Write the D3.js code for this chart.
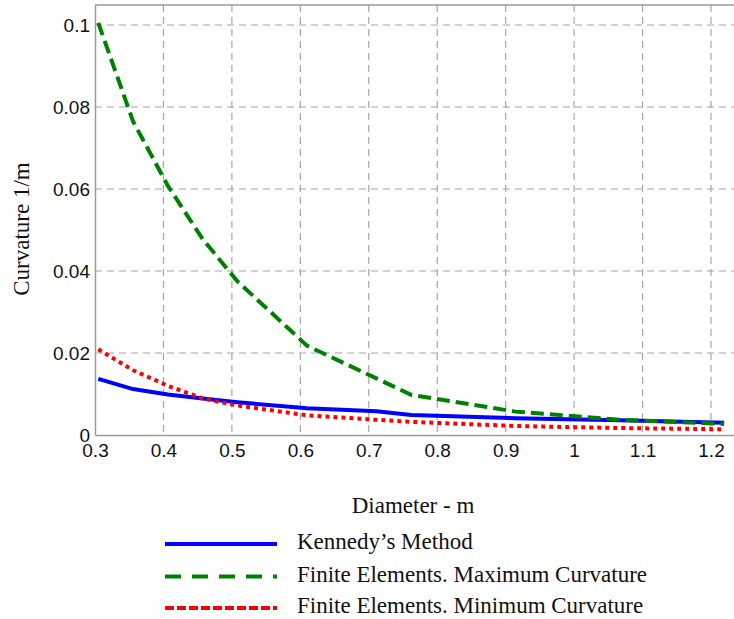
<!DOCTYPE html>
<html>
<head>
<meta charset="utf-8">
<script src="https://cdn.jsdelivr.net/npm/d3@7"></script>
<style>
  html, body { margin: 0; padding: 0; background: #ffffff; }
  svg { display: block; }
</style>
</head>
<body>
<svg id="chart" width="734" height="619"></svg>
<script>
// ---- data ----
const diameters = [0.3048, 0.3556, 0.4064, 0.4572, 0.508, 0.6096, 0.7112, 0.762, 0.9144, 1.0668, 1.2192];
const kennedy   = [0.0137, 0.0112, 0.0099, 0.0089, 0.0080, 0.0065, 0.0058, 0.0049, 0.0041, 0.0036, 0.0030];
const feMax     = [0.1005, 0.0765, 0.0608, 0.0478, 0.0375, 0.0218, 0.0138, 0.0098, 0.0057, 0.0037, 0.0027];
const feMin     = [0.0209, 0.0158, 0.0120, 0.0089, 0.0072, 0.0048, 0.0037, 0.0032, 0.0022, 0.0017, 0.0014];
const xTicks = [0.3, 0.4, 0.5, 0.6, 0.7, 0.8, 0.9, 1.0, 1.1, 1.2];
const yTicks = [0, 0.02, 0.04, 0.06, 0.08, 0.1];
const seriesNames = ["Kennedy\u2019s Method", "Finite Elements. Maximum Curvature", "Finite Elements. Minimum Curvature"];
const xTitle = "Diameter - m";
const yTitle = "Curvature 1/m";

(function () {
// ---- layout ----
const svg = d3.select("#chart");
const pL = 95, pR = 734, pT = 5, pB = 435;
const x = d3.scaleLinear().domain([0.3, 0.3 + (pR - pL) / 684.44]).range([pL, pR]);
const y = d3.scaleLinear().domain([0, 0.1 * (pB - pT) / 410]).range([pB, pT]);

const gridColor = "#a6a6a6";
const axisColor = "#9a9a9a";

// grid
svg.append("g").selectAll("line").data(xTicks.filter(d => d > 0.3)).join("line")
  .attr("x1", d => x(d)).attr("x2", d => x(d))
  .attr("y1", pT).attr("y2", pB)
  .attr("stroke", gridColor).attr("stroke-width", 1.2).attr("stroke-dasharray", "7,5");
svg.append("g").selectAll("line").data(yTicks.filter(d => d > 0)).join("line")
  .attr("x1", pL).attr("x2", pR)
  .attr("y1", d => y(d)).attr("y2", d => y(d))
  .attr("stroke", gridColor).attr("stroke-width", 1.2).attr("stroke-dasharray", "7,5");

// axes
const fmt = d3.format("~g");
const xAxis = svg.append("g").attr("transform", `translate(0,${pB})`)
  .call(d3.axisBottom(x).tickValues(xTicks).tickSize(0).tickPadding(9).tickFormat(fmt));
const yAxis = svg.append("g").attr("transform", `translate(${pL},0)`)
  .call(d3.axisLeft(y).tickValues(yTicks).tickSize(0).tickPadding(5).tickFormat(fmt));
[xAxis, yAxis].forEach(g => {
  g.select(".domain").attr("stroke", axisColor).attr("stroke-width", 1.5);
  g.selectAll("text").attr("font-family", "'Liberation Sans', Arial, sans-serif")
    .attr("font-size", 19).attr("fill", "#111");
});
// top border
svg.append("line").attr("x1", pL).attr("x2", pR).attr("y1", pT).attr("y2", pT)
  .attr("stroke", axisColor).attr("stroke-width", 1.5);

// series
const styles = [
  { color: "#0000ff", dash: null, legendDash: null, width: 4 },
  { color: "#008000", dash: "13,6", legendDash: "16,11", width: 4 },
  { color: "#ff0000", dash: "4,4", legendDash: "9,3", width: 4 }
];
const allSeries = [kennedy, feMax, feMin];
const line = d3.line().x(d => x(d[0])).y(d => y(d[1]));
[0, 2, 1].forEach(i => {
  const pts = diameters.map((d, j) => [d, allSeries[i][j]]);
  svg.append("path").datum(pts)
    .attr("d", line)
    .attr("fill", "none")
    .attr("stroke", styles[i].color)
    .attr("stroke-width", styles[i].width)
    .attr("stroke-dasharray", styles[i].dash)
    .attr("stroke-linejoin", "round");
});

// titles
svg.append("text").attr("x", 413).attr("y", 513).attr("text-anchor", "middle")
  .attr("font-family", "'Liberation Serif', 'Times New Roman', serif").attr("font-size", 23)
  .attr("fill", "#111").text(xTitle);
svg.append("text").attr("transform", "translate(29,229) rotate(-90)").attr("text-anchor", "middle")
  .attr("font-family", "'Liberation Serif', 'Times New Roman', serif").attr("font-size", 23)
  .attr("fill", "#111").text(yTitle);

// legend
const legY = [544, 576.5, 608];
const leg = svg.append("g");
seriesNames.forEach((name, i) => {
  leg.append("line").attr("x1", 165).attr("x2", 277).attr("y1", legY[i]).attr("y2", legY[i])
    .attr("stroke", styles[i].color).attr("stroke-width", 4)
    .attr("stroke-dasharray", styles[i].legendDash);
  leg.append("text").attr("x", 297).attr("y", legY[i] + 5)
    .attr("font-family", "'Liberation Serif', 'Times New Roman', serif").attr("font-size", 23)
    .attr("fill", "#111").text(name);
});
})();
</script>
</body>
</html>
